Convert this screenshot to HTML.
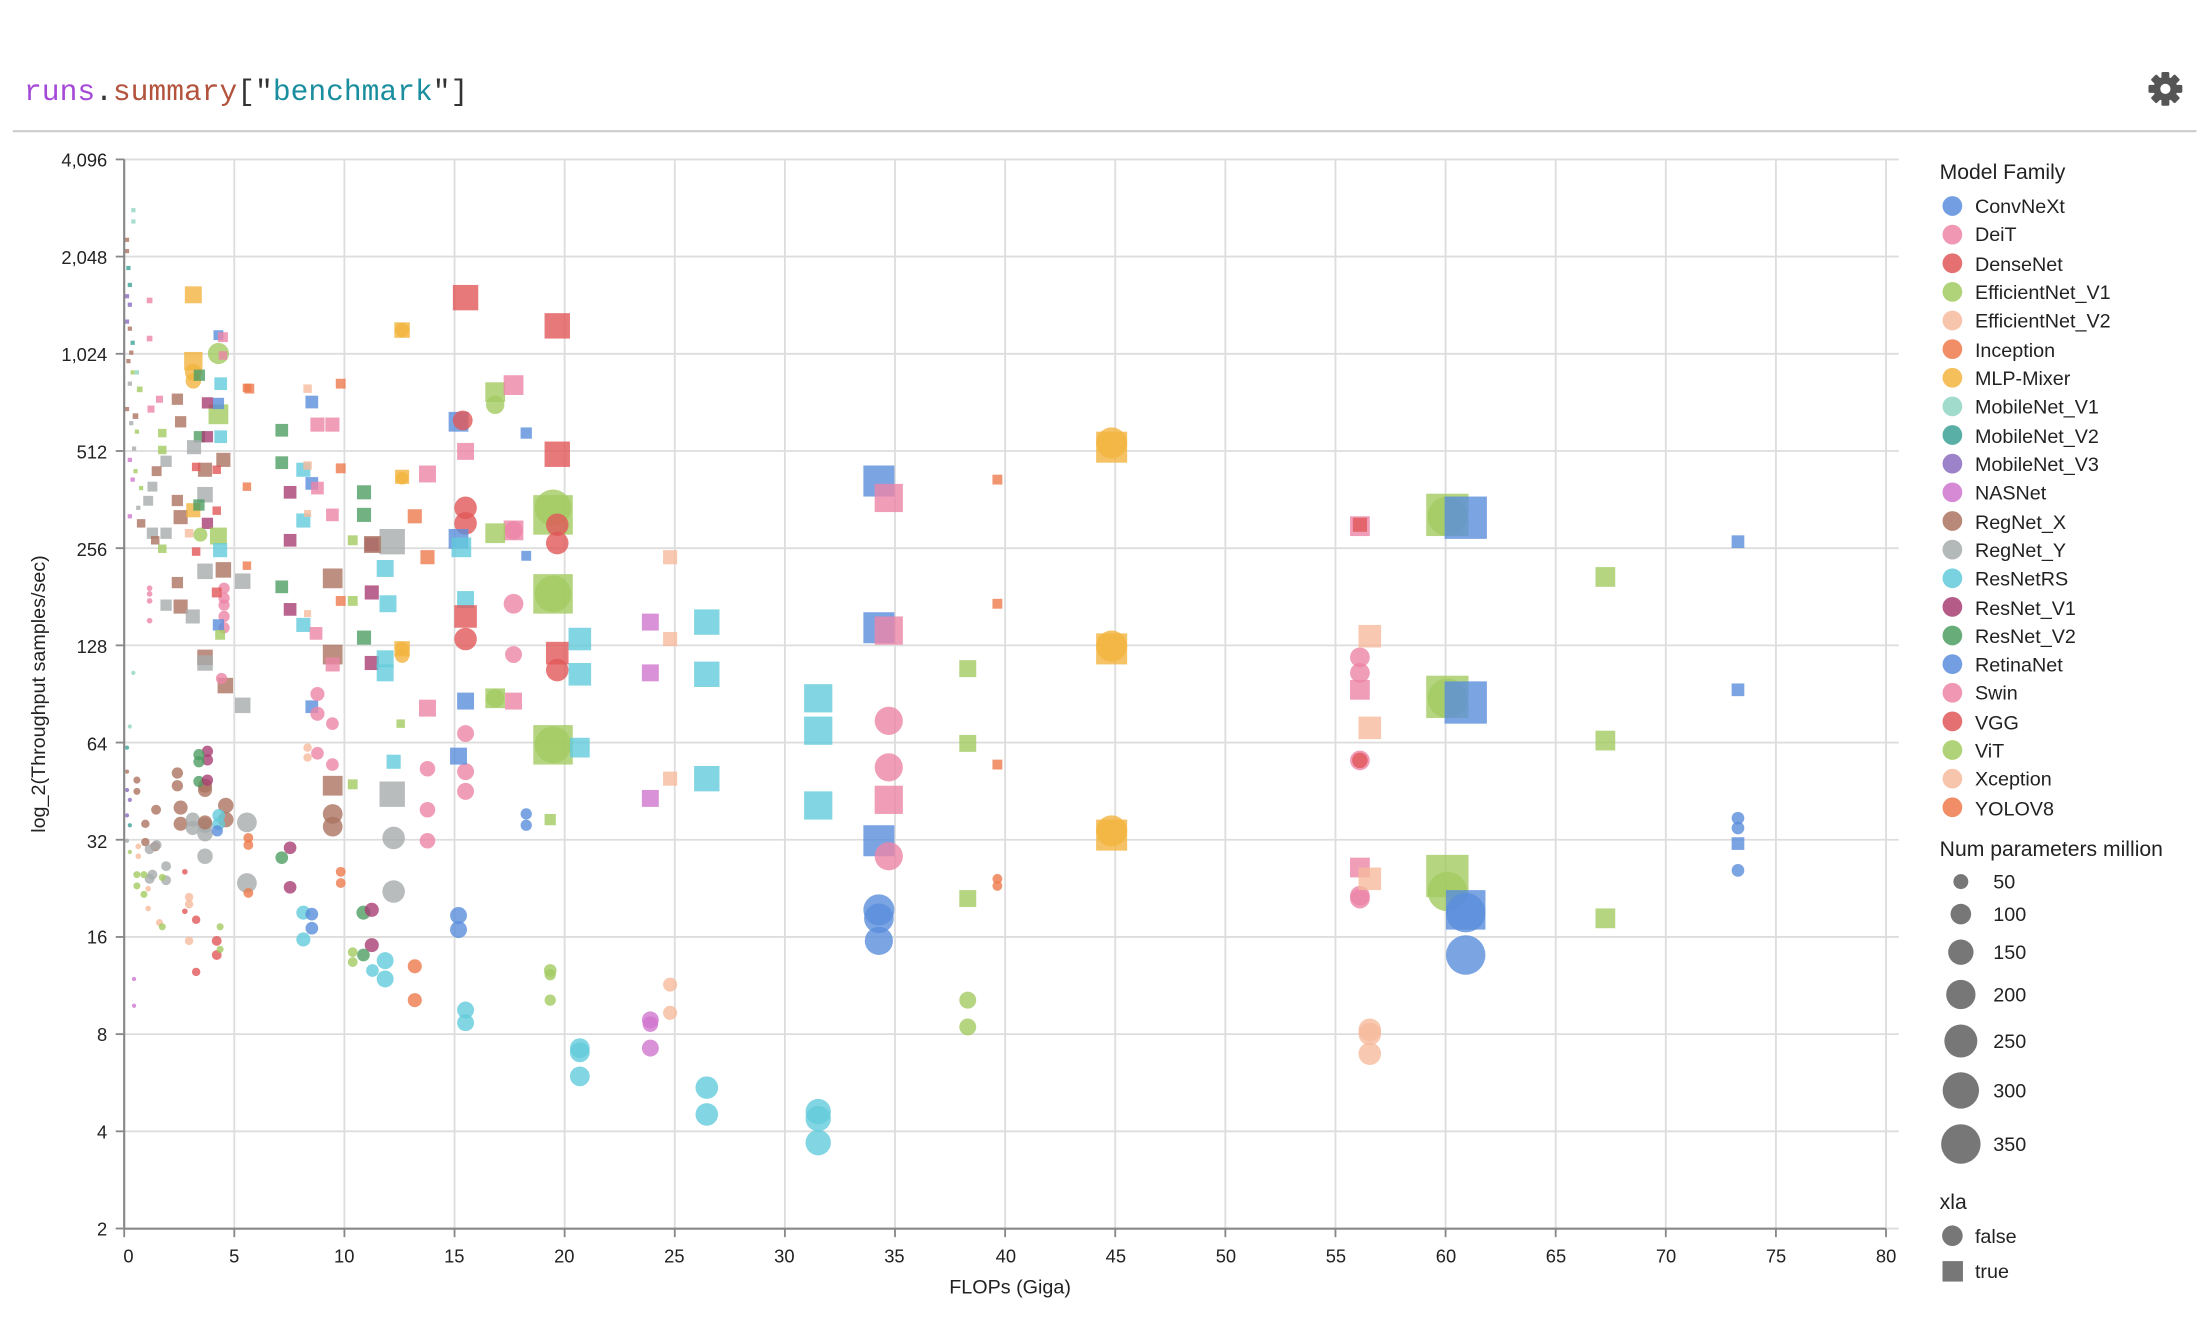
<!DOCTYPE html>
<html><head><meta charset="utf-8">
<style>
html,body{margin:0;padding:0;background:#fff;}
svg{display:block;}
text{font-family:"Liberation Sans",sans-serif;}
</style></head>
<body>
<svg id="s" width="2212" height="1326" viewBox="0 0 1568 940" xmlns="http://www.w3.org/2000/svg">
<text x="17" y="71" style="font-family:'Liberation Mono',monospace" font-size="21"><tspan fill="#A54AD6">runs</tspan><tspan fill="#333">.</tspan><tspan fill="#B4533D">summary</tspan><tspan fill="#333">["</tspan><tspan fill="#1A8E9E">benchmark</tspan><tspan fill="#333">"]</tspan></text>
<line x1="9" y1="93" x2="1557" y2="93" stroke="#ccc" stroke-width="1.5"/>
<g transform="translate(1535,63)" fill="#555">
<circle r="8.5"/>
<g id="teeth"><rect x="-2.8" y="-12" width="5.6" height="24" rx="1"/><rect x="-2.8" y="-12" width="5.6" height="24" rx="1" transform="rotate(45)"/><rect x="-2.8" y="-12" width="5.6" height="24" rx="1" transform="rotate(90)"/><rect x="-2.8" y="-12" width="5.6" height="24" rx="1" transform="rotate(135)"/></g>
<circle r="3.6" fill="#fff"/>
</g>
<g id="grid" stroke="#ddd" stroke-width="1.3"></g>
<g id="pts"></g>
<g stroke="#888" stroke-width="1.5">
<line x1="88" y1="113" x2="88" y2="871"/><line x1="88" y1="871" x2="1337" y2="871"/>
</g>
<g id="ticks" stroke="#888" stroke-width="1.3"></g>
<g font-size="13" fill="#222" text-anchor="end">
<text x="76" y="118">4,096</text><text x="76" y="187">2,048</text><text x="76" y="256">1,024</text><text x="76" y="325">512</text><text x="76" y="394">256</text><text x="76" y="463">128</text><text x="76" y="532">64</text><text x="76" y="601">32</text><text x="76" y="669">16</text><text x="76" y="738">8</text><text x="76" y="807">4</text><text x="76" y="876">2</text>
</g>
<g font-size="13" fill="#222" text-anchor="middle">
<text x="91" y="895">0</text><text x="166" y="895">5</text><text x="244" y="895">10</text><text x="322" y="895">15</text><text x="400" y="895">20</text><text x="478" y="895">25</text><text x="556" y="895">30</text><text x="634" y="895">35</text><text x="713" y="895">40</text><text x="791" y="895">45</text><text x="869" y="895">50</text><text x="947" y="895">55</text><text x="1025" y="895">60</text><text x="1103" y="895">65</text><text x="1181" y="895">70</text><text x="1259" y="895">75</text><text x="1337" y="895">80</text>
</g>
<text x="716" y="917" font-size="14" fill="#222" text-anchor="middle">FLOPs (Giga)</text>
<text transform="translate(32,492) rotate(-90)" font-size="14" fill="#222" text-anchor="middle">log_2(Throughput samples/sec)</text>
<g font-size="14" fill="#222">
<text x="1375" y="127" font-size="15">Model Family</text>
<text x="1400" y="151">ConvNeXt</text><text x="1400" y="171">DeiT</text><text x="1400" y="192">DenseNet</text><text x="1400" y="212">EfficientNet_V1</text><text x="1400" y="232">EfficientNet_V2</text><text x="1400" y="253">Inception</text><text x="1400" y="273">MLP-Mixer</text><text x="1400" y="293">MobileNet_V1</text><text x="1400" y="314">MobileNet_V2</text><text x="1400" y="334">MobileNet_V3</text><text x="1400" y="354">NASNet</text><text x="1400" y="375">RegNet_X</text><text x="1400" y="395">RegNet_Y</text><text x="1400" y="415">ResNetRS</text><text x="1400" y="436">ResNet_V1</text><text x="1400" y="456">ResNet_V2</text><text x="1400" y="476">RetinaNet</text><text x="1400" y="496">Swin</text><text x="1400" y="517">VGG</text><text x="1400" y="537">ViT</text><text x="1400" y="557">Xception</text><text x="1400" y="578">YOLOV8</text>
<text x="1375" y="607" font-size="15">Num parameters million</text>
<text x="1413" y="630">50</text><text x="1413" y="653">100</text><text x="1413" y="680">150</text><text x="1413" y="710">200</text><text x="1413" y="743">250</text><text x="1413" y="778">300</text><text x="1413" y="816">350</text>
<text x="1375" y="857" font-size="15">xla</text>
<text x="1400" y="881">false</text><text x="1400" y="906">true</text>
</g>
<g fill="#777">
<circle cx="1390" cy="625" r="5.3"/><circle cx="1390" cy="648" r="7.3"/><circle cx="1390" cy="675" r="9"/><circle cx="1390" cy="705" r="10.4"/><circle cx="1390" cy="738" r="11.7"/><circle cx="1390" cy="773" r="12.9"/><circle cx="1390" cy="811" r="14"/>
<circle cx="1384" cy="876" r="7.3"/><rect x="1377" y="894" width="14.5" height="14.5"/>
</g>
<g id="leg"></g>
</svg>
<script>
var C={cn:"#5A8DDC",de:"#EC85A6",dn:"#E15759",e1:"#A2CB62",e2:"#F6BA9E",in:"#EE7A4E",ml:"#F3B43F",m1:"#91D5C2",m2:"#3CA196",m3:"#8A6CBF",na:"#CF76CE",rx:"#AB7360",ry:"#A6ABAD",rs:"#63CADB",r1:"#A83E73",r2:"#4E9D63",rn:"#5A8DDC",sw:"#EC85A6",vg:"#E15759",vi:"#A2CB62",xc:"#F6BA9E",yo:"#EE7A4E"};
var keys=["cn","de","dn","e1","e2","in","ml","m1","m2","m3","na","rx","ry","rs","r1","r2","rn","sw","vg","vi","xc","yo"];
var NS="http://www.w3.org/2000/svg";
function el(t,a,p){var e=document.createElementNS(NS,t);for(var k in a)e.setAttribute(k,a[k]);document.getElementById(p).appendChild(e);return e;}
var i;
for(i=0;i<17;i++){var x=88+i*78.06;el("line",{x1:x,y1:113,x2:x,y2:871},"grid");el("line",{x1:x,y1:871,x2:x,y2:877},"ticks");}
for(i=0;i<12;i++){var y=113+i*68.9;el("line",{x1:88,y1:y,x2:1346,y2:y},"grid");el("line",{x1:82,y1:y,x2:88,y2:y},"ticks");}
keys.forEach(function(k,j){el("circle",{cx:1384,cy:146+j*20.3,r:7,fill:C[k],opacity:0.85},"leg");});
var P=[
// [x,y,type(c/s),color,size]
[137,209,"s","ml",12],[154.8,237.6,"s","cn",7],[158,239,"s","de",7],[106,213,"s","de",4],[106,240,"s","de",4],[94.5,149,"s","m1",3],[94.5,157,"s","m1",3],
[137,256,"s","ml",13],[137,264,"c","ml",12],[137,270,"c","ml",11],[154.8,250.6,"c","vi",15],[158,252,"s","de",6],[141.3,266,"s","r2",8],[156.4,272,"s","rs",9],
[154.8,293.7,"s","vi",14],[154.8,286,"s","cn",8],[147,285.6,"s","r1",8],[125.7,283,"s","rx",8],[128,299,"s","rx",8],[113,283,"s","de",5],[107,290,"s","de",5],
[115,307,"s","e1",6],[115,319,"s","e1",6],[141.3,309.6,"s","r2",8],[147,309.6,"s","r1",8],[156.4,309.6,"s","rs",9],[137.5,317,"s","ry",10],[117.7,327,"s","ry",8],
[111,334,"s","rx",7],[158.3,326,"s","rx",10],[153.6,333,"s","dn",6],[145.3,333,"s","rx",10],[139,331,"s","dn",6],[108,345,"s","ry",7],[105,355,"s","ry",7],
[145.3,350.7,"s","ry",11],[125.7,354.8,"s","rx",8],[128,366.6,"s","rx",10],[137,361.7,"s","ml",10],[141,358,"s","r2",8],[147,371,"s","r1",8],[117.7,378,"s","ry",8],
[108,378,"s","ry",8],[100,371,"s","rx",6],[110,383,"s","rx",6],[154.8,380,"s","vi",12],[142,379,"c","vi",10],[134,378,"s","xc",6],[153.6,362,"s","dn",6],[156,390,"s","rs",10],
[115,389,"s","e1",6],[139,391,"s","dn",6],[145.3,405,"s","ry",11],[158.3,404,"s","rx",11],[175,401,"s","in",6],[175,345,"s","in",6],[175,275,"s","in",6],[172,412,"s","ry",11],
[125.7,413,"s","rx",8],[128,430,"s","rx",10],[117.7,429,"s","ry",8],[136.6,437,"s","ry",10],[106,417,"c","de",4],[106,421,"c","de",4],[106,426,"c","de",4],[106,440,"c","de",4],
[158.8,417,"c","de",8],[158.8,424,"c","de",8],[158.8,429,"c","de",8],[158.8,437,"c","de",8],[158.8,445,"c","de",8],[153.6,420,"s","dn",7],[154.8,443,"s","cn",8],[156,450,"s","vi",7],
[145.3,466,"s","rx",11],[145.3,470,"s","ry",11],[159.7,486,"s","rx",11],[157,481,"c","de",8],[172,500,"s","ry",11],[94.5,477,"c","m1",3],
[147,532.6,"c","r1",8],[147,538.7,"c","r1",8],[141,535,"c","r2",8],[141,540,"c","r2",8],[125.7,548,"c","rx",8],[125.7,557,"c","rx",8],[145.3,557,"c","rx",10],[145.3,560,"c","rx",10],[141,554,"c","r2",8],[147,553,"c","r1",8],
[160,571,"c","rx",11],[160,581,"c","rx",11],[128,572.5,"c","rx",10],[128,584,"c","rx",10],[136.6,581,"c","ry",10],[136.6,587,"c","ry",10],[145.3,585,"c","ry",11],[145.3,591,"c","ry",11],[145.3,583,"c","rx",10],
[155,578,"c","rs",9],[155,584,"c","rs",9],[154,589,"c","cn",8],[110.6,574,"c","rx",7],[103,584,"c","rx",6],[97,553,"c","rx",5],[97,561,"c","rx",5],[103,597,"c","rx",6],[110,600,"c","rx",7],
[111,599,"c","ry",7],[106,602,"c","ry",7],[108,620,"c","ry",7],[106,623,"c","ry",7],[117.7,614,"c","ry",7],[117.7,624,"c","ry",7],[145.3,607,"c","ry",11],
[175,583,"c","ry",14],[175,626,"c","ry",14],[176,594,"c","in",7],[176,599,"c","in",7],[176,633,"c","in",7],
[131,618,"c","dn",4],[131,646,"c","dn",4],[139,652,"c","dn",6],[139,689,"c","dn",6],[153.6,667,"c","dn",7],[153.6,677,"c","dn",7],[134,636,"c","xc",6],[134,641,"c","xc",6],[105,630,"c","xc",4],[105,644,"c","xc",4],[113,654,"c","xc",5],[134,667,"c","xc",6],[98,600,"c","xc",4],[98,607,"c","xc",4],
[97,620,"c","e1",5],[102,620,"c","e1",5],[97,628,"c","e1",5],[102,634,"c","e1",5],[115,622,"c","e1",5],[115,657,"c","e1",5],[156,657,"c","e1",5],[156,673,"c","e1",5],[95,694,"c","na",3],[95,713,"c","na",3],
[90,547,"c","rx",3],[90,560,"c","m3",3],[92,567,"c","m3",3],[90,578,"c","m3",3],[92,585,"c","m2",3],[90,530,"c","m2",3],[92,515,"c","m1",3],[90,596,"c","ry",3],[92,604,"c","e1",3],
[90,170,"s","rx",3],[90,178,"s","rx",3],[91,190,"s","m2",3],[92,202,"s","m2",3],[90,210,"s","m3",3],[92,216,"s","m3",3],[90,228,"s","m3",3],[92,233,"s","rx",3],[94,243,"s","m2",3],[93,250,"s","rx",3],[91,256,"s","rx",3],[94,264,"s","e1",3],[92,272,"s","ry",3],
[90,290,"s","rx",3],[93,300,"s","ry",3],[97,306,"s","e1",3],[95,318,"s","ry",3],[92,326,"s","na",3],[96,334,"s","e1",3],[94,340,"s","na",3],[100,346,"s","e1",3],[98,360,"s","ry",3],[92,366,"s","na",3],[96,295,"s","rx",4],[99,276,"s","e1",4],[97,264,"s","m1",3],
[199.7,305,"s","r2",9],[176.7,275.5,"s","in",7],[218,275.5,"s","xc",6],[221,285,"s","cn",9],[241.5,272,"s","in",7],[225,301,"s","de",10],[235.6,301,"s","de",10],[199.7,328,"s","r2",9],
[215,333,"s","rs",10],[221,342.7,"s","cn",9],[225,346,"s","de",9],[218,330,"s","xc",6],[241.5,332,"s","in",7],[205.6,349,"s","r1",9],[258,349,"s","r2",10],[258,365,"s","r2",10],
[215,369,"s","rs",10],[235.6,365,"s","de",9],[218,364,"s","xc",5],[205.6,383,"s","r1",9],[250,383,"s","vi",7],[263.5,386,"s","r1",10],[235.8,410,"s","rx",14],[263.5,420,"s","r1",10],
[199.7,416,"s","r2",9],[205.6,432,"s","r1",9],[215,443,"s","rs",10],[224,449,"s","de",9],[218,435,"s","xc",5],[250,426,"s","vi",7],[241.5,426,"s","in",7],[258,452,"s","r2",10],
[235.8,464,"s","rx",14],[235.8,471,"s","de",10],[263.5,470,"s","r1",10],[221,501,"s","cn",9],[225,492,"c","de",10],[225,506,"c","de",10],[235.6,513,"c","de",9],
[218,530,"c","xc",6],[218,537,"c","xc",6],[225,534,"c","de",9],[235.6,542,"c","de",9],[250,556,"s","vi",7],[235.8,557,"s","rx",14],[235.8,577,"c","rx",14],[235.8,586,"c","rx",14],
[199.7,608,"c","r2",9],[205.6,601,"c","r1",9],[205.6,629,"c","r1",9],[241.5,618,"c","in",7],[241.5,626,"c","in",7],[215,647,"c","rs",10],[215,666,"c","rs",10],[221,648,"c","cn",9],[221,658,"c","cn",9],
[257.6,647,"c","r2",10],[263.5,645,"c","r1",10],[263.5,670,"c","r1",10],[250,675,"c","vi",7],[250,682,"c","vi",7],[257.6,677,"c","r2",9],[264,688,"c","rs",9],
[285,234,"s","ml",11],[285,234,"c","ml",10],[285,338,"s","ml",10],[285,339,"c","ml",9],[303,336,"s","de",12],[294,366,"s","in",10],[303,395,"s","in",10],
[278,384,"s","ry",18],[273,403,"s","rs",12],[275,428,"s","rs",12],[264,386,"s","rx",12],[278,563,"s","ry",18],[279,594,"c","ry",16],[279,632,"c","ry",16],
[294,685,"c","in",10],[294,709,"c","in",10],[273,681,"c","rs",12],[273,694,"c","rs",12],[285,460,"s","ml",11],[285,460,"c","ml",10],[285,465,"c","ml",10],
[273,467,"s","rs",12],[273,477,"s","rs",12],[303,502,"s","de",12],[303,545,"c","de",11],[303,574,"c","de",11],[303,596,"c","de",11],[279,540,"s","rs",10],[284,513,"s","e1",6],
[330,211,"s","dn",18],[395,231,"s","dn",18],[395,322,"s","dn",18],[351,278,"s","vi",14],[351,287,"c","vi",13],[364,273,"s","de",14],[325,299,"s","cn",14],[328,298,"c","dn",14],[373,307,"s","cn",8],
[330,320,"s","de",12],[392,365,"s","vi",28],[392,360,"c","vi",26],[330,360,"c","dn",16],[330,371,"c","dn",16],[395,372,"c","dn",16],[395,385,"c","dn",16],[364,376,"s","de",14],[364,376,"c","de",13],
[351,378,"s","vi",14],[325,382,"s","cn",14],[327,388,"s","rs",14],[373,394,"s","cn",7],[392,421,"s","vi",28],[392,421,"c","vi",26],[364,428,"c","de",14],[330,425,"s","rs",12],[330,437,"s","dn",16],
[330,453,"c","dn",16],[411,453,"s","rs",16],[411,478,"s","rs",16],[395,463,"s","dn",16],[395,475,"c","dn",16],[364,464,"c","de",12],[351,495,"s","vi",14],[351,495,"c","vi",13],[364,497,"s","de",12],
[330,497,"s","cn",12],[330,520,"c","de",12],[330,547,"c","de",12],[330,561,"c","de",12],[392,528,"s","vi",28],[392,528,"c","vi",26],[411,530,"s","rs",14],[325,536,"s","cn",12],
[325,649,"c","cn",12],[325,659,"c","cn",12],[373,577,"c","cn",8],[373,585,"c","cn",8],[330,716,"c","rs",12],[330,725,"c","rs",12],[390,688,"c","vi",9],[390,709,"c","vi",8],[390,581,"s","vi",8],[390,691,"c","e1",8],
[411,743,"c","rs",14],[411,746,"c","rs",14],[411,763,"c","rs",14],
[501,441,"s","rs",18],[501,478,"s","rs",18],[501,552,"s","rs",18],[501,771,"c","rs",16],[501,790,"c","rs",16],
[461,441,"s","na",12],[461,477,"s","na",12],[461,566,"s","na",12],[461,723,"c","na",12],[461,726,"c","na",11],[461,743,"c","na",12],
[475,395,"s","xc",10],[475,453,"s","xc",10],[475,552,"s","xc",10],[475,698,"c","xc",10],[475,718,"c","xc",10],
[580,495,"s","rs",20],[580,518,"s","rs",20],[580,571,"s","rs",20],[580,788,"c","rs",18],[580,793,"c","rs",18],[580,810,"c","rs",18],
[623,341,"s","cn",22],[623,445,"s","cn",22],[623,596,"s","cn",22],[623,645,"c","cn",22],[623,651,"c","cn",21],[623,667,"c","cn",20],
[630,353,"s","de",20],[630,447,"s","de",20],[630,567,"s","de",20],[630,511,"c","de",20],[630,544,"c","de",20],[630,607,"c","de",20],
[788,317,"s","ml",22],[788,314,"c","ml",22],[788,460,"s","ml",22],[788,458,"c","ml",22],[788,592,"s","ml",22],[788,589,"c","ml",22],
[707,340,"s","in",7],[707,428,"s","in",7],[707,542,"s","in",7],[707,623,"c","in",7],[707,628,"c","in",7],
[686,474,"s","vi",12],[686,527,"s","vi",12],[686,637,"s","vi",12],[686,709,"c","vi",12],[686,728,"c","vi",12],
[964,373,"s","de",14],[964,489,"s","de",14],[964,615,"s","de",14],[964,466,"c","de",14],[964,477,"c","de",14],[964,539,"c","de",14],[964,635,"c","de",14],[964,637,"c","de",14],[964,372,"s","dn",10],[964,539,"c","dn",11],
[971,451,"s","xc",16],[971,516,"s","xc",16],[971,623,"s","xc",16],[971,730,"c","xc",16],[971,733,"c","xc",16],[971,747,"c","xc",16],
[1026,365,"s","vi",30],[1026,366,"c","vi",28],[1026,494,"s","vi",30],[1026,495,"c","vi",28],[1026,621,"s","vi",30],[1026,632,"c","vi",28],
[1039,367,"s","cn",30],[1039,498,"s","cn",30],[1039,645,"s","cn",28],[1039,647,"c","cn",28],[1039,677,"c","cn",28],
[1138,409,"s","vi",14],[1138,525,"s","vi",14],[1138,651,"s","vi",14],
[1232,384,"s","cn",9],[1232,489,"s","cn",9],[1232,598,"s","cn",9],[1232,580,"c","cn",9],[1232,587,"c","cn",9],[1232,617,"c","cn",9]
];
P.forEach(function(p){var c=C[p[3]],s=p[4];
if(p[2]=="s")el("rect",{x:p[0]-s/2,y:p[1]-s/2,width:s,height:s,fill:c,"fill-opacity":0.8},"pts");
else el("circle",{cx:p[0],cy:p[1],r:s/2,fill:c,"fill-opacity":0.8},"pts");});
</script>
</body></html>
